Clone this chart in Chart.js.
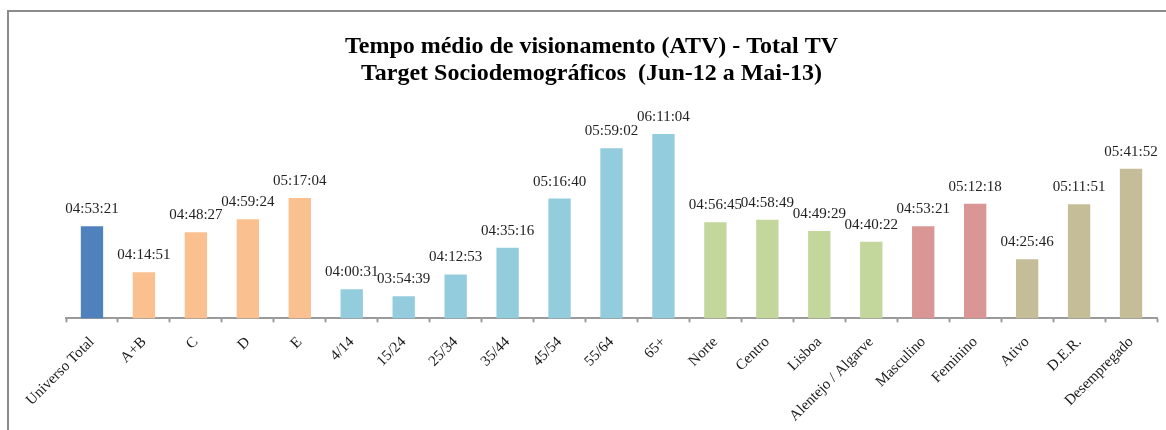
<!DOCTYPE html>
<html>
<head>
<meta charset="utf-8">
<script src="https://cdn.jsdelivr.net/npm/chart.js@4"></script>
<style>
    html, body { margin: 0; padding: 0; background: #fff; overflow: hidden; }
    #frame {
        position: absolute;
        left: 7px;
        top: 10px;
        width: 1170px;
        height: 430px;
        border-left: 2px solid #8c8c8c;
        border-top: 2px solid #8c8c8c;
    }
    #atvChart { display: block; }
</style>
</head>
<body>
<div id="frame">
    <canvas id="atvChart" width="1165" height="426"></canvas>
</div>
<script>
// Tempo médio de visionamento por target (hh:mm:ss)
const categories = ['Universo Total', 'A+B', 'C', 'D', 'E', '4/14', '15/24', '25/34', '35/44', '45/54',
    '55/64', '65+', 'Norte', 'Centro', 'Lisboa', 'Alentejo / Algarve', 'Masculino', 'Feminino',
    'Ativo', 'D.E.R.', 'Desempregado'];
const atvLabels = ['04:53:21', '04:14:51', '04:48:27', '04:59:24', '05:17:04', '04:00:31', '03:54:39',
    '04:12:53', '04:35:16', '05:16:40', '05:59:02', '06:11:04', '04:56:45', '04:58:49', '04:49:29',
    '04:40:22', '04:53:21', '05:12:18', '04:25:46', '05:11:51', '05:41:52'];
const groups = ['total', 'classe', 'classe', 'classe', 'classe', 'idade', 'idade', 'idade', 'idade', 'idade',
    'idade', 'idade', 'regiao', 'regiao', 'regiao', 'regiao', 'sexo', 'sexo', 'ocupacao', 'ocupacao', 'ocupacao'];

const groupColors = {
    total: '#4F81BD',
    classe: '#FAC090',
    idade: '#93CDDD',
    regiao: '#C3D69B',
    sexo: '#D99694',
    ocupacao: '#C4BD97'
};

function toSeconds(hms) {
    const p = hms.split(':').map(Number);
    return p[0] * 3600 + p[1] * 60 + p[2];
}

const atvSeconds = atvLabels.map(toSeconds);

// value labels above each bar
const valueLabels = {
    id: 'valueLabels',
    afterDatasetsDraw(chart) {
        const ctx = chart.ctx;
        const meta = chart.getDatasetMeta(0);
        ctx.save();
        ctx.font = '15px "Liberation Serif"';
        ctx.fillStyle = '#222';
        ctx.textAlign = 'center';
        ctx.textBaseline = 'alphabetic';
        meta.data.forEach((bar, i) => {
            ctx.fillText(atvLabels[i], bar.x, bar.y - 13);
        });
        ctx.restore();
    }
};

new Chart(document.getElementById('atvChart'), {
    type: 'bar',
    data: {
        labels: categories,
        datasets: [{
            data: atvSeconds,
            backgroundColor: groups.map(g => groupColors[g]),
            borderWidth: 0,
            categoryPercentage: 1,
            barPercentage: 0.43
        }]
    },
    options: {
        responsive: false,
        animation: false,
        layout: {
            padding: { left: 17, right: 17, top: 0, bottom: 2 }
        },
        plugins: {
            legend: { display: false },
            tooltip: { enabled: false },
            title: {
                display: true,
                text: ['Tempo médio de visionamento (ATV) - Total TV', 'Target Sociodemográficos  (Jun-12 a Mai-13)'],
                color: '#000',
                font: { family: 'Liberation Serif', size: 24, weight: 'bold', lineHeight: 1.125 },
                padding: { top: 21, bottom: 10 }
            }
        },
        scales: {
            x: {
                offset: true,
                grid: {
                    offset: true,
                    drawOnChartArea: false,
                    drawTicks: true,
                    tickLength: 4,
                    tickWidth: 2,
                    tickColor: '#9a9a9a'
                },
                border: { display: true, color: '#9a9a9a', width: 2 },
                ticks: {
                    minRotation: 45,
                    maxRotation: 45,
                    padding: 11,
                    color: '#1a1a1a',
                    font: { family: 'Liberation Serif', size: 15 }
                }
            },
            y: {
                min: 12960,
                max: 24125,
                grid: { display: false },
                border: { display: false },
                ticks: { display: false },
                afterFit(scale) {
                    scale.width = 40;
                }
            }
        }
    },
    plugins: [valueLabels]
});
</script>
</body>
</html>
